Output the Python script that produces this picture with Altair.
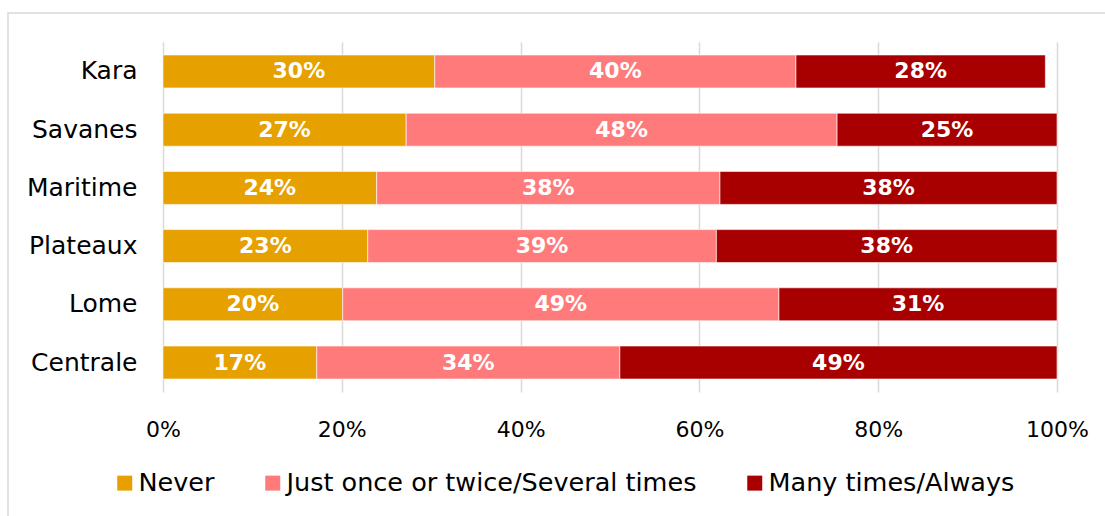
import altair as alt
import pandas as pd

regions = ["Kara", "Savanes", "Maritime", "Plateaux", "Lome", "Centrale"]
categories = ["Never", "Just once or twice/Several times", "Many times/Always"]
never = [30.4, 27.2, 23.9, 22.9, 20.1, 17.2]
once = [40.4, 48.2, 38.4, 39.0, 48.8, 33.9]
many = [27.9, 24.6, 37.7, 38.1, 31.1, 48.9]
colors = ["#E6A000", "#FF7B7B", "#A80000"]
x_ticks = [0, 20, 40, 60, 80, 100]

rows = []
for i, r in enumerate(regions):
    for j, (c, vals) in enumerate(zip(categories, [never, once, many])):
        rows.append({"region": r, "category": c, "order": j, "value": vals[i]})
df = pd.DataFrame(rows)

FONT = "DejaVu Sans"

base = alt.Chart(df).transform_stack(
    stack="value",
    groupby=["region"],
    as_=["v0", "v1"],
    sort=[alt.SortField("order", "ascending")],
).transform_calculate(
    mid="(datum.v0 + datum.v1) / 2",
    label="format(round(datum.value), 'd') + '%'",
)

yscale = alt.Scale(paddingInner=0.433, paddingOuter=0.223)
xscale = alt.Scale(domain=[0, 100], nice=False)

bars = base.mark_bar(stroke="white", strokeWidth=0.6).encode(
    x=alt.X(
        "v0:Q",
        scale=xscale,
        title=None,
        axis=alt.Axis(
            values=x_ticks,
            labelExpr="datum.value + '%'",
            labelFlush=False,
            domain=False,
            ticks=False,
            grid=True,
            gridColor="#D9D9D9",
            gridWidth=1.5,
            labelFontSize=22,
            labelPadding=27,
            labelColor="#000000",
            labelFont=FONT,
        ),
    ),
    x2="v1:Q",
    y=alt.Y(
        "region:N",
        sort=regions,
        title=None,
        scale=yscale,
        axis=alt.Axis(
            domain=False,
            ticks=False,
            labelFontSize=25,
            labelPadding=26,
            labelColor="#000000",
            labelFont=FONT,
        ),
    ),
    color=alt.Color(
        "category:N",
        scale=alt.Scale(domain=categories, range=colors),
        legend=alt.Legend(
            orient="none",
            legendX=-51,
            legendY=428,
            direction="horizontal",
            title=None,
            symbolType="square",
            symbolSize=225,
            symbolStrokeWidth=0,
            labelFontSize=25.5,
            labelFont=FONT,
            labelColor="#000000",
            labelLimit=0,
            columnPadding=45,
            labelOffset=1,
        ),
    ),
)

labels = base.mark_text(color="white", fontWeight="bold", fontSize=22, font=FONT).encode(
    x=alt.X("mid:Q", scale=xscale),
    y=alt.Y("region:N", sort=regions, scale=yscale),
    text="label:N",
)

border = alt.Chart(pd.DataFrame({"a": [0]})).mark_rect(
    fill="transparent", stroke="#D9D9D9", strokeWidth=1.5
).encode(
    x=alt.value(-155), x2=alt.value(1100), y=alt.value(-29), y2=alt.value(600)
)

chart = alt.layer(border, bars, labels).properties(
    width=894,
    height=350,
    padding={"left": 163, "top": 42, "right": 48, "bottom": 124},
    autosize="none",
    background="white",
).configure_view(stroke=None)

chart.save("out.html", embed_options={"renderer": "svg", "actions": False})
